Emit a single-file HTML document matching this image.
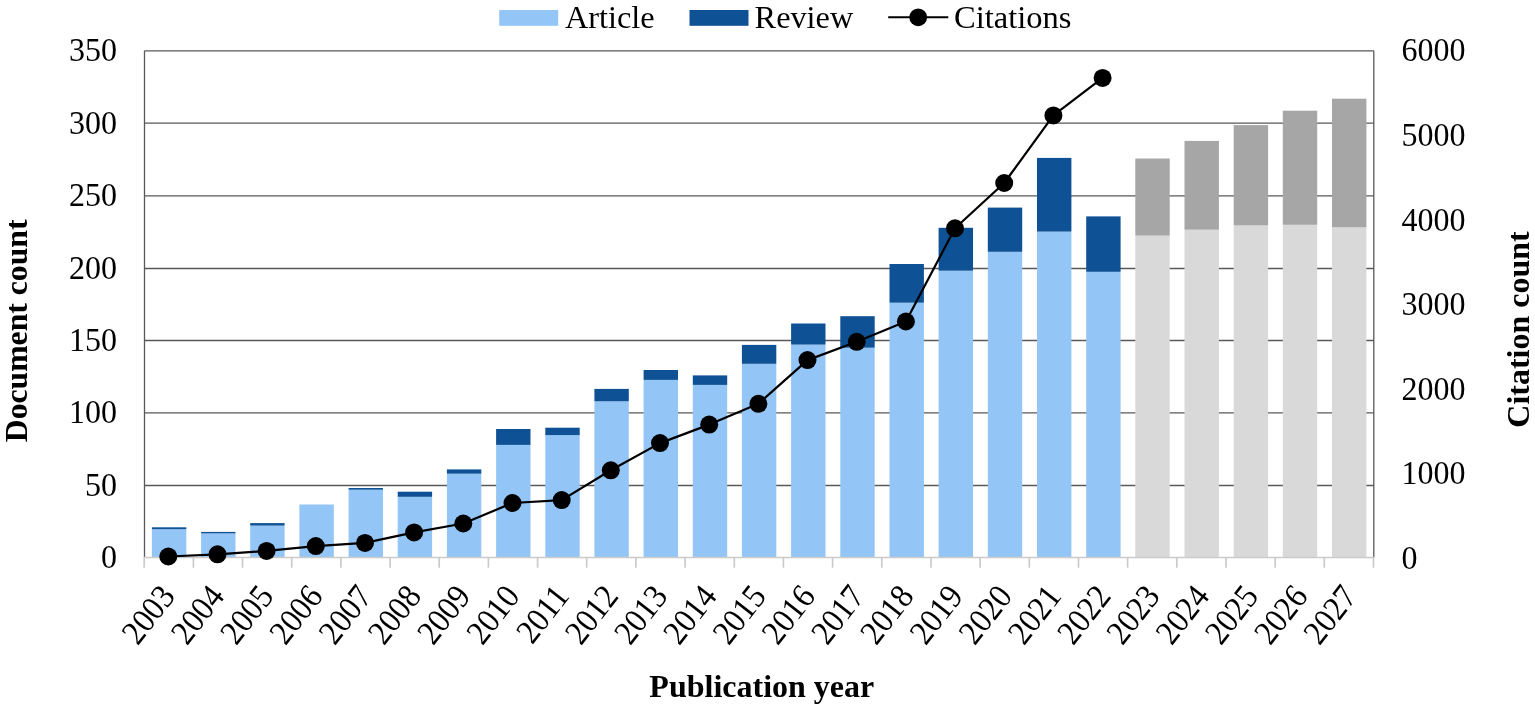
<!DOCTYPE html>
<html lang="en"><head><meta charset="utf-8"><title>Publications and citations per year</title>
<style>html,body{margin:0;padding:0;background:#fff}body{width:1535px;height:710px;overflow:hidden}svg{display:block}text{font-family:"Liberation Serif","Times New Roman",serif;font-size:32px;fill:#000}.b{font-weight:bold}</style></head><body>
<svg width="1535" height="710" viewBox="0 0 1535 710">
<rect width="1535" height="710" fill="#fff"/>
<g stroke="#595959" stroke-width="1.3" fill="none">
<line x1="144.5" y1="50.8" x2="1373.8" y2="50.8"/>
<line x1="144.5" y1="123.2" x2="1373.8" y2="123.2"/>
<line x1="144.5" y1="195.8" x2="1373.8" y2="195.8"/>
<line x1="144.5" y1="268.5" x2="1373.8" y2="268.5"/>
<line x1="144.5" y1="340.5" x2="1373.8" y2="340.5"/>
<line x1="144.5" y1="412.8" x2="1373.8" y2="412.8"/>
<line x1="144.5" y1="485.5" x2="1373.8" y2="485.5"/>
<line x1="144.5" y1="50.8" x2="144.5" y2="557.5"/>
<line x1="1373.8" y1="50.8" x2="1373.8" y2="557.5"/>
</g>
<rect x="151.9" y="529.2" width="34.4" height="28.3" fill="#93c6f6"/>
<rect x="151.9" y="527.3" width="34.4" height="1.9" fill="#0e5295"/>
<rect x="201.1" y="533.4" width="34.4" height="24.1" fill="#93c6f6"/>
<rect x="201.1" y="531.9" width="34.4" height="1.5" fill="#0e5295"/>
<rect x="250.2" y="525.6" width="34.4" height="31.9" fill="#93c6f6"/>
<rect x="250.2" y="523.1" width="34.4" height="2.5" fill="#0e5295"/>
<rect x="299.4" y="504.5" width="34.4" height="53.0" fill="#93c6f6"/>
<rect x="348.6" y="489.7" width="34.4" height="67.8" fill="#93c6f6"/>
<rect x="348.6" y="488.0" width="34.4" height="1.7" fill="#0e5295"/>
<rect x="397.7" y="496.8" width="34.4" height="60.7" fill="#93c6f6"/>
<rect x="397.7" y="491.7" width="34.4" height="5.1" fill="#0e5295"/>
<rect x="446.9" y="473.7" width="34.4" height="83.8" fill="#93c6f6"/>
<rect x="446.9" y="469.4" width="34.4" height="4.3" fill="#0e5295"/>
<rect x="496.1" y="444.9" width="34.4" height="112.6" fill="#93c6f6"/>
<rect x="496.1" y="429.0" width="34.4" height="15.9" fill="#0e5295"/>
<rect x="545.3" y="435.1" width="34.4" height="122.4" fill="#93c6f6"/>
<rect x="545.3" y="427.7" width="34.4" height="7.4" fill="#0e5295"/>
<rect x="594.4" y="401.3" width="34.4" height="156.2" fill="#93c6f6"/>
<rect x="594.4" y="388.9" width="34.4" height="12.4" fill="#0e5295"/>
<rect x="643.6" y="379.9" width="34.4" height="177.6" fill="#93c6f6"/>
<rect x="643.6" y="370.0" width="34.4" height="9.9" fill="#0e5295"/>
<rect x="692.8" y="384.9" width="34.4" height="172.6" fill="#93c6f6"/>
<rect x="692.8" y="375.4" width="34.4" height="9.5" fill="#0e5295"/>
<rect x="741.9" y="363.8" width="34.4" height="193.7" fill="#93c6f6"/>
<rect x="741.9" y="344.9" width="34.4" height="18.9" fill="#0e5295"/>
<rect x="791.1" y="344.6" width="34.4" height="212.9" fill="#93c6f6"/>
<rect x="791.1" y="323.5" width="34.4" height="21.1" fill="#0e5295"/>
<rect x="840.3" y="347.7" width="34.4" height="209.8" fill="#93c6f6"/>
<rect x="840.3" y="316.2" width="34.4" height="31.5" fill="#0e5295"/>
<rect x="889.5" y="302.7" width="34.4" height="254.8" fill="#93c6f6"/>
<rect x="889.5" y="264.0" width="34.4" height="38.7" fill="#0e5295"/>
<rect x="938.6" y="270.7" width="34.4" height="286.8" fill="#93c6f6"/>
<rect x="938.6" y="227.8" width="34.4" height="42.9" fill="#0e5295"/>
<rect x="987.8" y="251.8" width="34.4" height="305.7" fill="#93c6f6"/>
<rect x="987.8" y="207.6" width="34.4" height="44.2" fill="#0e5295"/>
<rect x="1037.0" y="231.6" width="34.4" height="325.9" fill="#93c6f6"/>
<rect x="1037.0" y="157.9" width="34.4" height="73.7" fill="#0e5295"/>
<rect x="1086.2" y="271.8" width="34.4" height="285.7" fill="#93c6f6"/>
<rect x="1086.2" y="216.4" width="34.4" height="55.4" fill="#0e5295"/>
<rect x="1135.3" y="235.6" width="34.4" height="321.9" fill="#d9d9d9"/>
<rect x="1135.3" y="158.5" width="34.4" height="77.1" fill="#a6a6a6"/>
<rect x="1184.5" y="229.7" width="34.4" height="327.8" fill="#d9d9d9"/>
<rect x="1184.5" y="140.9" width="34.4" height="88.8" fill="#a6a6a6"/>
<rect x="1233.7" y="225.4" width="34.4" height="332.1" fill="#d9d9d9"/>
<rect x="1233.7" y="125.1" width="34.4" height="100.3" fill="#a6a6a6"/>
<rect x="1282.8" y="224.8" width="34.4" height="332.7" fill="#d9d9d9"/>
<rect x="1282.8" y="110.7" width="34.4" height="114.1" fill="#a6a6a6"/>
<rect x="1332.0" y="227.3" width="34.4" height="330.2" fill="#d9d9d9"/>
<rect x="1332.0" y="98.7" width="34.4" height="128.6" fill="#a6a6a6"/>
<g stroke="#cbcbcb" stroke-width="1.7" fill="none">
<line x1="143.8" y1="557.5" x2="1374.5" y2="557.5"/>
<line x1="144.2" y1="557.5" x2="144.2" y2="567.7"/>
<line x1="193.4" y1="557.5" x2="193.4" y2="567.7"/>
<line x1="242.5" y1="557.5" x2="242.5" y2="567.7"/>
<line x1="291.7" y1="557.5" x2="291.7" y2="567.7"/>
<line x1="340.9" y1="557.5" x2="340.9" y2="567.7"/>
<line x1="390.1" y1="557.5" x2="390.1" y2="567.7"/>
<line x1="439.2" y1="557.5" x2="439.2" y2="567.7"/>
<line x1="488.4" y1="557.5" x2="488.4" y2="567.7"/>
<line x1="537.6" y1="557.5" x2="537.6" y2="567.7"/>
<line x1="586.7" y1="557.5" x2="586.7" y2="567.7"/>
<line x1="635.9" y1="557.5" x2="635.9" y2="567.7"/>
<line x1="685.1" y1="557.5" x2="685.1" y2="567.7"/>
<line x1="734.3" y1="557.5" x2="734.3" y2="567.7"/>
<line x1="783.4" y1="557.5" x2="783.4" y2="567.7"/>
<line x1="832.6" y1="557.5" x2="832.6" y2="567.7"/>
<line x1="881.8" y1="557.5" x2="881.8" y2="567.7"/>
<line x1="931.0" y1="557.5" x2="931.0" y2="567.7"/>
<line x1="980.1" y1="557.5" x2="980.1" y2="567.7"/>
<line x1="1029.3" y1="557.5" x2="1029.3" y2="567.7"/>
<line x1="1078.5" y1="557.5" x2="1078.5" y2="567.7"/>
<line x1="1127.6" y1="557.5" x2="1127.6" y2="567.7"/>
<line x1="1176.8" y1="557.5" x2="1176.8" y2="567.7"/>
<line x1="1226.0" y1="557.5" x2="1226.0" y2="567.7"/>
<line x1="1275.2" y1="557.5" x2="1275.2" y2="567.7"/>
<line x1="1324.3" y1="557.5" x2="1324.3" y2="567.7"/>
<line x1="1373.5" y1="557.5" x2="1373.5" y2="567.7"/>
</g>
<polyline points="168.3,556.5 217.5,554.3 266.6,550.9 315.8,546.1 365.0,542.9 414.1,532.4 463.3,523.5 512.5,503.0 561.7,500.1 610.8,470.3 660.0,443.1 709.2,424.6 758.4,403.8 807.5,360.1 856.7,341.8 905.9,321.5 955.0,228.3 1004.2,183.0 1053.4,115.4 1102.6,77.9" fill="none" stroke="#000" stroke-width="2.2" stroke-linejoin="round"/>
<circle cx="168.3" cy="556.5" r="9" fill="#000"/>
<circle cx="217.5" cy="554.3" r="9" fill="#000"/>
<circle cx="266.6" cy="550.9" r="9" fill="#000"/>
<circle cx="315.8" cy="546.1" r="9" fill="#000"/>
<circle cx="365.0" cy="542.9" r="9" fill="#000"/>
<circle cx="414.1" cy="532.4" r="9" fill="#000"/>
<circle cx="463.3" cy="523.5" r="9" fill="#000"/>
<circle cx="512.5" cy="503.0" r="9" fill="#000"/>
<circle cx="561.7" cy="500.1" r="9" fill="#000"/>
<circle cx="610.8" cy="470.3" r="9" fill="#000"/>
<circle cx="660.0" cy="443.1" r="9" fill="#000"/>
<circle cx="709.2" cy="424.6" r="9" fill="#000"/>
<circle cx="758.4" cy="403.8" r="9" fill="#000"/>
<circle cx="807.5" cy="360.1" r="9" fill="#000"/>
<circle cx="856.7" cy="341.8" r="9" fill="#000"/>
<circle cx="905.9" cy="321.5" r="9" fill="#000"/>
<circle cx="955.0" cy="228.3" r="9" fill="#000"/>
<circle cx="1004.2" cy="183.0" r="9" fill="#000"/>
<circle cx="1053.4" cy="115.4" r="9" fill="#000"/>
<circle cx="1102.6" cy="77.9" r="9" fill="#000"/>
<text transform="translate(117.1,61.3) scale(1,1.08)" text-anchor="end">350</text>
<text transform="translate(117.1,133.7) scale(1,1.08)" text-anchor="end">300</text>
<text transform="translate(117.1,206.3) scale(1,1.08)" text-anchor="end">250</text>
<text transform="translate(117.1,279.0) scale(1,1.08)" text-anchor="end">200</text>
<text transform="translate(117.1,351.0) scale(1,1.08)" text-anchor="end">150</text>
<text transform="translate(117.1,423.3) scale(1,1.08)" text-anchor="end">100</text>
<text transform="translate(117.1,496.0) scale(1,1.08)" text-anchor="end">50</text>
<text transform="translate(117.1,568.0) scale(1,1.08)" text-anchor="end">0</text>
<text transform="translate(1401.5,61.3) scale(1,1.08)">6000</text>
<text transform="translate(1401.5,145.9) scale(1,1.08)">5000</text>
<text transform="translate(1401.5,230.5) scale(1,1.08)">4000</text>
<text transform="translate(1401.5,315.1) scale(1,1.08)">3000</text>
<text transform="translate(1401.5,399.8) scale(1,1.08)">2000</text>
<text transform="translate(1401.5,484.4) scale(1,1.08)">1000</text>
<text transform="translate(1401.5,569.0) scale(1,1.08)">0</text>
<text transform="translate(176.5,596.6) rotate(-52) scale(1,1.08)" text-anchor="end" style="font-size:31.5px">2003</text>
<text transform="translate(225.7,596.6) rotate(-52) scale(1,1.08)" text-anchor="end" style="font-size:31.5px">2004</text>
<text transform="translate(275.0,596.6) rotate(-52) scale(1,1.08)" text-anchor="end" style="font-size:31.5px">2005</text>
<text transform="translate(324.2,596.6) rotate(-52) scale(1,1.08)" text-anchor="end" style="font-size:31.5px">2006</text>
<text transform="translate(373.5,596.6) rotate(-52) scale(1,1.08)" text-anchor="end" style="font-size:31.5px">2007</text>
<text transform="translate(422.7,596.6) rotate(-52) scale(1,1.08)" text-anchor="end" style="font-size:31.5px">2008</text>
<text transform="translate(471.9,596.6) rotate(-52) scale(1,1.08)" text-anchor="end" style="font-size:31.5px">2009</text>
<text transform="translate(521.2,596.6) rotate(-52) scale(1,1.08)" text-anchor="end" style="font-size:31.5px">2010</text>
<text transform="translate(570.4,596.6) rotate(-52) scale(1,1.08)" text-anchor="end" style="font-size:31.5px">2011</text>
<text transform="translate(619.7,596.6) rotate(-52) scale(1,1.08)" text-anchor="end" style="font-size:31.5px">2012</text>
<text transform="translate(668.9,596.6) rotate(-52) scale(1,1.08)" text-anchor="end" style="font-size:31.5px">2013</text>
<text transform="translate(718.1,596.6) rotate(-52) scale(1,1.08)" text-anchor="end" style="font-size:31.5px">2014</text>
<text transform="translate(767.4,596.6) rotate(-52) scale(1,1.08)" text-anchor="end" style="font-size:31.5px">2015</text>
<text transform="translate(816.6,596.6) rotate(-52) scale(1,1.08)" text-anchor="end" style="font-size:31.5px">2016</text>
<text transform="translate(865.9,596.6) rotate(-52) scale(1,1.08)" text-anchor="end" style="font-size:31.5px">2017</text>
<text transform="translate(915.1,596.6) rotate(-52) scale(1,1.08)" text-anchor="end" style="font-size:31.5px">2018</text>
<text transform="translate(964.4,596.6) rotate(-52) scale(1,1.08)" text-anchor="end" style="font-size:31.5px">2019</text>
<text transform="translate(1013.6,596.6) rotate(-52) scale(1,1.08)" text-anchor="end" style="font-size:31.5px">2020</text>
<text transform="translate(1062.8,596.6) rotate(-52) scale(1,1.08)" text-anchor="end" style="font-size:31.5px">2021</text>
<text transform="translate(1112.1,596.6) rotate(-52) scale(1,1.08)" text-anchor="end" style="font-size:31.5px">2022</text>
<text transform="translate(1161.3,596.6) rotate(-52) scale(1,1.08)" text-anchor="end" style="font-size:31.5px">2023</text>
<text transform="translate(1210.6,596.6) rotate(-52) scale(1,1.08)" text-anchor="end" style="font-size:31.5px">2024</text>
<text transform="translate(1259.8,596.6) rotate(-52) scale(1,1.08)" text-anchor="end" style="font-size:31.5px">2025</text>
<text transform="translate(1309.1,596.6) rotate(-52) scale(1,1.08)" text-anchor="end" style="font-size:31.5px">2026</text>
<text transform="translate(1358.3,596.6) rotate(-52) scale(1,1.08)" text-anchor="end" style="font-size:31.5px">2027</text>
<text class="b" x="761.8" y="696.7" text-anchor="middle">Publication year</text>
<text class="b" transform="translate(27.1,330.9) rotate(-90)" text-anchor="middle" style="font-size:31.7px">Document count</text>
<text class="b" transform="translate(1528.6,329.5) rotate(-90)" text-anchor="middle">Citation count</text>
<rect x="499.2" y="10" width="59" height="15.8" fill="#93c6f6"/>
<text x="565" y="27.8" style="font-size:32.3px">Article</text>
<rect x="689.5" y="10" width="59" height="15.8" fill="#0e5295"/>
<text x="754.6" y="27.8" style="font-size:32.3px">Review</text>
<line x1="888.2" y1="17.3" x2="948.3" y2="17.3" stroke="#000" stroke-width="2"/>
<circle cx="918.2" cy="17.3" r="8.9" fill="#000"/>
<text x="954" y="27.9" style="font-size:32.5px">Citations</text>
</svg></body></html>
